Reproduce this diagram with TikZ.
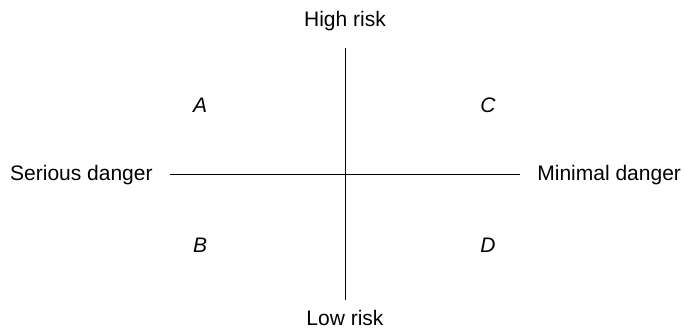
\documentclass[tikz,border=0pt]{standalone}
\usepackage{fontspec}
\setmainfont{Liberation Sans}
\begin{document}
\begin{tikzpicture}[x=0.5pt,y=-0.5pt,
  lbl/.style={font=\fontsize{10.5}{12}\selectfont, inner sep=0pt},
  quad/.style={lbl, font=\fontsize{10.5}{12}\selectfont\itshape},
  axis/.style={line width=0.5pt, black}]
\useasboundingbox (0,0) rectangle (684,330);
\node[lbl] (high) at (345,21) {High risk};
\node[lbl] (low) at (345,318) {Low risk};
\node[lbl, anchor=east] (serious) at (153,175) {Serious danger};
\node[lbl, anchor=west] (minimal) at (537,175) {Minimal danger};
\coordinate (top) at (345,48);
\coordinate (bot) at (345,300);
\coordinate (left) at (170,175);
\coordinate (right) at (520,175);
\draw[axis] (top) -- (bot);
\draw[axis] (left) -- (right);
\node[quad] (A) at (200,105) {A};
\node[quad] (C) at (488,105) {C};
\node[quad] (B) at (200,245) {B};
\node[quad] (D) at (488,245) {D};
\end{tikzpicture}
\end{document}
